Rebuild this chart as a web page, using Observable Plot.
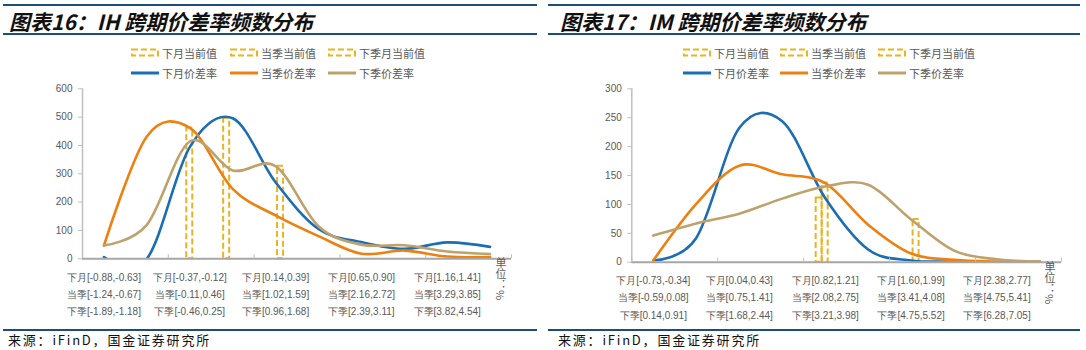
<!DOCTYPE html>
<html><head><meta charset="utf-8">
<script src="https://cdn.jsdelivr.net/npm/d3@7"></script>
<script src="https://cdn.jsdelivr.net/npm/@observablehq/plot@0.6"></script>
<style>
body{margin:0;background:#fff;}
#root{position:relative;width:1086px;height:350px;overflow:hidden;background:#fff;}
.rule{position:absolute;background:#1c4e7a;}
.title{position:absolute;font-family:"Noto Sans CJK SC",sans-serif;font-style:italic;font-weight:700;font-size:21px;line-height:22px;color:#111;white-space:nowrap;}
.leg{position:absolute;font-family:"Noto Sans CJK SC",sans-serif;font-size:11px;line-height:14px;color:#595959;white-space:nowrap;display:flex;align-items:center;}
.leg svg{margin-right:3px;}
.src{position:absolute;font-family:"Noto Sans CJK SC",sans-serif;font-size:13px;line-height:14px;letter-spacing:1.8px;color:#111;white-space:nowrap;}
.unit{position:absolute;writing-mode:vertical-rl;font-family:"Noto Sans CJK SC",sans-serif;font-size:11px;line-height:12px;color:#595959;}
.chart{position:absolute;}
</style></head>
<body><div id="root"></div>
<script>
// ---------- data ----------
const titles = ["图表16：IH 跨期价差率频数分布", "图表17：IM 跨期价差率频数分布"];
const sourceText = "来源：iFinD，国金证券研究所";
const unitText = "单位：%";
const barNames = ["下月当前值", "当季当前值", "下季月当前值"];
const lineNames = ["下月价差率", "当季价差率", "下季价差率"];

// IH bins (10 bins, labels shown every other bin)
const ihMonthLabels   = ["下月[-0.88,-0.63]", "下月[-0.37,-0.12]", "下月[0.14,0.39]", "下月[0.65,0.90]", "下月[1.16,1.41]"];
const ihQuarterLabels = ["当季[-1.24,-0.67]", "当季[-0.11,0.46]", "当季[1.02,1.59]", "当季[2.16,2.72]", "当季[3.29,3.85]"];
const ihNextQLabels   = ["下季[-1.89,-1.18]", "下季[-0.46,0.25]", "下季[0.96,1.68]", "下季[2.39,3.11]", "下季[3.82,4.54]"];
const ihMonth   = [6, 0, 394, 496, 270, 105, 59, 35, 58, 42];
const ihQuarter = [47, 432, 462, 247, 153, 80, 18, 29, 8, 6];
const ihNextQ   = [47, 120, 414, 312, 327, 115, 50, 48, 26, 17];
const ihCurrentBin = [3, 2, 4]; // 下月, 当季, 下季
const ihYTicks = [0, 100, 200, 300, 400, 500, 600];

// IM bins
const imMonthLabels   = ["下月[-0.73,-0.34]", "下月[0.04,0.43]", "下月[0.82,1.21]", "下月[1.60,1.99]", "下月[2.38,2.77]"];
const imQuarterLabels = ["当季[-0.59,0.08]", "当季[0.75,1.41]", "当季[2.08,2.75]", "当季[3.41,4.08]", "当季[4.75,5.41]"];
const imNextQLabels   = ["下季[0.14,0.91]", "下季[1.68,2.44]", "下季[3.21,3.98]", "下季[4.75,5.52]", "下季[6.28,7.05]"];
const imMonth   = [3, 42, 232, 244, 111, 22, 3, 1, 0, 0];
const imQuarter = [3, 101, 167, 152, 137, 65, 15, 4, 1, 1];
const imNextQ   = [46, 67, 84, 110, 131, 134, 74, 20, 5, 1];
const imCurrentBin = [4, 4, 6];
const imYTicks = [0, 50, 100, 150, 200, 250, 300];

// ---------- style ----------
const lineColors = ["#1b6db4", "#ee8010", "#bfa16c"];
const gold = "#ebb31f";
const barDx = [-6, 0, 5];

const panels = [
  {x0: 0, ruleL: 3, ruleR: 537, titleL: 9, srcL: 8, legCols: [131, 230, 328], ml: 82, mr: 29, yAxisBottom: 258.3, unitX: 495, unitY: 257,
   series: [ihMonth, ihQuarter, ihNextQ], bins: ihCurrentBin, labels: [ihMonthLabels, ihQuarterLabels, ihNextQLabels], yTicks: ihYTicks, title: titles[0]},
  {x0: 543, ruleL: 548, ruleR: 1080, titleL: 560, srcL: 558, legCols: [683, 780, 878], ml: 88.3, mr: 22, yAxisBottom: 261.7, unitX: 1044, unitY: 261,
   series: [imMonth, imQuarter, imNextQ], bins: imCurrentBin, labels: [imMonthLabels, imQuarterLabels, imNextQLabels], yTicks: imYTicks, title: titles[1]}
];

const root = document.getElementById("root");
function el(cls, css, html) {
  const d = document.createElement("div");
  d.className = cls; Object.assign(d.style, css); if (html != null) d.innerHTML = html;
  root.appendChild(d); return d;
}

for (const p of panels) {
  el("rule", {left: p.ruleL + "px", top: "4px", width: (p.ruleR - p.ruleL) + "px", height: "1.5px"});
  el("title", {left: p.titleL + "px", top: "10px"}, p.title);
  el("rule", {left: p.ruleL + "px", top: "33px", width: (p.ruleR - p.ruleL) + "px", height: "2px"});
  // legend
  barNames.forEach((n, k) => {
    const icon = `<svg width="28" height="9"><rect x="1" y="1.5" width="26" height="6" fill="none" stroke="${gold}" stroke-width="2" stroke-dasharray="6,3"/></svg>`;
    const d = el("leg", {left: p.legCols[k] + "px", top: "45.5px"}, icon);
    d.appendChild(document.createTextNode(n));
  });
  lineNames.forEach((n, k) => {
    const icon = `<svg width="28" height="6"><line x1="0" x2="28" y1="3" y2="3" stroke="${lineColors[k]}" stroke-width="3"/></svg>`;
    const d = el("leg", {left: p.legCols[k] + "px", top: "65.7px"}, icon);
    d.appendChild(document.createTextNode(n));
  });

  // chart
  const svgTop = 80, svgH = 248, svgW = 540;
  const marginTop = 88.3 - svgTop;
  const marginBottom = svgTop + svgH - p.yAxisBottom;
  const lineData = p.series.map(s => s.map((v, i) => ({i, v})));
  const xLabels = p.labels[0].map((_, j) => p.labels.map(r => r[j]).join("\n"));
  const bounds = d3.range(-0.5, 10, 2);
  const marks = [
    Plot.axisY({ticks: p.yTicks, tickSize: 4, tickPadding: 6, stroke: "#bfbfbf", fill: "#595959", label: null, fontSize: 10}),
    Plot.axisX({ticks: [0, 2, 4, 6, 8], tickSize: 0, tickPadding: 9.5, tickFormat: i => xLabels[i / 2], lineHeight: 1.73, fill: "#595959", label: null, fontSize: 10}),
    Plot.ruleX([-0.5], {stroke: "#bfbfbf", strokeWidth: 1.5}),
    ...p.bins.map((b, k) => Plot.rect([{i: b, v: p.series[k][b]}], {
      x1: d => d.i - 0.07, x2: d => d.i + 0.07, y1: 0, y2: "v", dx: barDx[k],
      fill: "none", stroke: gold, strokeWidth: 2, strokeDasharray: "6,3"})),
    ...lineData.map((ld, k) => Plot.line(ld, {x: "i", y: "v", curve: "cardinal", tension: 0, stroke: lineColors[k], strokeWidth: 2.6, clip: true})),
    Plot.ruleY([0], {stroke: "#a6a6a6", strokeWidth: 2}),
    Plot.ruleX(bounds, {y1: 0, y2: 0, insetTop: -4, stroke: "#bfbfbf", strokeWidth: 1})
  ];
  const chart = Plot.plot({
    width: svgW, height: svgH,
    marginTop, marginBottom, marginLeft: p.ml, marginRight: p.mr,
    style: {fontFamily: "'Liberation Sans', Arial, sans-serif", fontSize: "10px", color: "#595959", background: "transparent", overflow: "visible"},
    x: {type: "linear", domain: [-0.5, 9.5]},
    y: {domain: [0, p.yTicks[p.yTicks.length - 1]]},
    marks
  });
  const holder = el("chart", {left: p.x0 + "px", top: svgTop + "px"});
  holder.appendChild(chart);
  el("unit", {left: p.unitX + "px", top: p.unitY + "px"}, unitText);

  el("rule", {left: p.ruleL + "px", top: "329px", width: (p.ruleR - p.ruleL) + "px", height: "1.5px"});
  el("src", {left: p.srcL + "px", top: "333px"}, sourceText);
}
</script></body></html>
